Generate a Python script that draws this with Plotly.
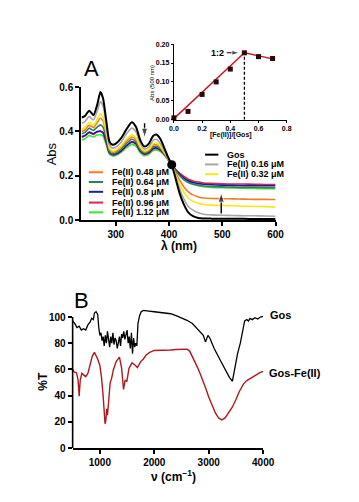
import plotly.graph_objects as go

# ---------------- Panel A : UV-vis spectra ----------------
wl = [236, 242, 250, 258, 265, 271, 276, 282, 288, 294, 300, 310, 320, 330, 338, 346, 354, 362, 370, 376,
      384, 392, 398, 405, 412, 420, 428, 436, 445, 455, 465, 480, 500, 520, 540, 560, 580, 600]
abs_gos = [.463, .470, .494, .474, .52, .578, .55, .45, .355, .34, .345, .37, .41, .442, .42, .36, .332, .345, .38, .386,
           .365, .32, .285, .25, .19, .12, .07, .035, .018, .01, .008, .007, .006, .006, .006, .005, .005, .005]
abs_016 = [.437, .445, .468, .452, .49, .535, .515, .43, .34, .325, .33, .352, .39, .415, .398, .345, .32, .33, .36, .365,
           .345, .31, .28, .25, .2, .14, .095, .062, .045, .033, .027, .024, .022, .021, .02, .02, .019, .018]
abs_032 = [.41, .418, .44, .428, .455, .48, .465, .4, .325, .312, .316, .335, .365, .385, .372, .33, .312, .32, .345, .348,
           .333, .302, .277, .25, .205, .16, .125, .1, .085, .076, .071, .068, .066, .065, .063, .062, .061, .059]
abs_048 = [.40, .407, .428, .418, .44, .46, .448, .39, .32, .307, .31, .328, .357, .375, .363, .325, .308, .315, .338, .341,
           .328, .3, .276, .25, .215, .18, .15, .128, .114, .105, .1, .098, .097, .096, .095, .094, .094, .093]
abs_064 = [.39, .396, .415, .405, .42, .43, .42, .37, .31, .3, .303, .32, .347, .365, .353, .318, .303, .31, .33, .333,
           .322, .298, .276, .25, .225, .2, .182, .17, .162, .157, .154, .152, .15, .149, .148, .148, .147, .146]
abs_080 = [.377, .382, .398, .39, .4, .402, .395, .355, .305, .296, .298, .313, .337, .354, .345, .312, .299, .305, .323, .326,
           .316, .295, .275, .25, .228, .207, .19, .178, .17, .165, .162, .16, .158, .157, .156, .156, .155, .155]
abs_096 = [.373, .38, .395, .387, .398, .4, .393, .352, .303, .295, .297, .312, .335, .352, .343, .31, .297, .303, .321, .324,
           .315, .294, .275, .25, .23, .212, .197, .185, .177, .172, .168, .166, .164, .163, .163, .162, .161, .161]
abs_112 = [.362, .367, .382, .375, .384, .385, .379, .34, .297, .29, .292, .306, .327, .342, .334, .303, .291, .297, .314, .317,
           .309, .291, .273, .25, .225, .204, .187, .175, .164, .156, .151, .148, .146, .145, .144, .143, .142, .142]

series_names = ["Gos", "Fe(II) 0.16 μM", "Fe(II) 0.32 μM", "Fe(II) 0.48 μM", "Fe(II) 0.64 μM",
                "Fe(II) 0.8 μM", "Fe(II) 0.96 μM", "Fe(II) 1.12 μM"]
series_vals = [abs_gos, abs_016, abs_032, abs_048, abs_064, abs_080, abs_096, abs_112]
series_cols = ["#000000", "#a6a6a6", "#f7e718", "#f07d1e", "#2f7d5a", "#1c1c9c", "#e0234e", "#3ee03e"]

iso_x = [405]
iso_y = [0.25]

# trend arrows in panel A (tail -> head)
arrow_down_x = [354, 354]
arrow_down_y = [0.437, 0.372]
arrow_up_x = [498, 498]
arrow_up_y = [0.03, 0.124]

# ---------------- Inset : Abs(500) vs ratio ----------------
ratio = [0.0, 0.1, 0.2, 0.3, 0.4, 0.5, 0.6, 0.7]
abs500 = [0.005, 0.022, 0.067, 0.100, 0.134, 0.177, 0.167, 0.162]
fit1_x = [0.0, 0.5]
fit1_y = [0.003, 0.177]
fit2_x = [0.5, 0.7]
fit2_y = [0.177, 0.161]
drop_x = [0.5, 0.5]
drop_y = [0.0, 0.177]
arrow_12_x = [0.375, 0.465]
arrow_12_y = [0.177, 0.177]

# ---------------- Panel B : IR spectra ----------------
nu_gos = [500, 540, 580, 620, 660, 700, 740, 780, 820, 850, 880, 900, 930, 960, 980, 1000, 1020, 1040, 1060, 1080,
          1100, 1120, 1140, 1160, 1180, 1200, 1220, 1240, 1260, 1280, 1300, 1320, 1340, 1360, 1380, 1400, 1420, 1440,
          1460, 1480, 1500, 1520, 1540, 1560, 1580, 1600, 1620, 1640, 1660, 1680, 1700, 1730, 1760, 1800, 1850, 1900,
          2000, 2100, 2200, 2300, 2400, 2500, 2600, 2700, 2800, 2860, 2900, 2940, 2960, 2985, 3020, 3100, 3200, 3300,
          3380, 3435, 3480, 3530, 3580, 3620, 3660, 3700, 3730, 3760, 3800, 3850, 3900, 3950, 4000]
t_gos = [97, 95, 92, 93, 90, 91, 90, 94, 96, 99, 98, 103, 104, 102, 92, 86, 88, 82, 85, 78,
         86, 80, 89, 83, 77, 85, 80, 88, 79, 84, 82, 76, 81, 85, 78, 87, 84, 89,
         83, 86, 90, 80, 85, 76, 88, 72, 84, 77, 80, 78, 95, 101, 104, 105, 105, 104.5,
         104, 103.5, 103, 102.5, 101, 99.5, 97.5, 95, 90.5, 88, 86, 81, 83, 86, 84, 76, 68, 60,
         54, 51, 62, 72, 80, 90, 97, 98, 97, 99, 98, 99.5, 98.5, 100, 100.5]
nu_fe = [500, 530, 570, 600, 620, 640, 670, 700, 740, 780, 820, 860, 900, 930, 960, 1000, 1030, 1060, 1080, 1095,
         1110, 1125, 1140, 1150, 1165, 1190, 1215, 1250, 1300, 1360, 1400, 1435, 1465, 1495, 1535, 1590, 1650, 1690,
         1750, 1800, 1850, 1915, 2000, 2100, 2200, 2300, 2400, 2500, 2600, 2650, 2700, 2750, 2800, 2850, 2900, 2950,
         3000, 3060, 3120, 3180, 3240, 3300, 3360, 3430, 3500, 3560, 3640, 3700, 3760, 3815, 3880, 3940, 4000]
t_fe = [60, 58, 57.5, 52, 39.5, 52, 57, 56, 54.5, 57, 63, 70, 73, 71, 68, 63, 54, 40, 25, 18.5,
        21, 30, 25, 30, 40, 50, 53, 60, 66, 69.4, 61, 44.7, 52, 50.7, 60.7, 65, 63.2, 61.4,
        66, 68, 71, 73, 74.5, 74.5, 75, 74.8, 75.2, 75.5, 75.5, 74, 70, 66, 61, 56, 51, 45,
        39, 33, 27, 23, 21.5, 23, 26.5, 31, 37, 43, 49, 51.5, 53, 54.5, 56, 57.5, 58.5]

FONT = "Liberation Sans"
W, H = 359, 502


def px(xp):
    return xp / W


def py(yp):
    return 1 - yp / H


fig = go.Figure()

# Panel A traces (drawn bottom-to-top so black ends on top)
for name, vals, col in list(zip(series_names, series_vals, series_cols))[::-1]:
    fig.add_trace(go.Scatter(x=wl, y=vals, mode="lines", name=name,
                             line=dict(color=col, width=2.0 if name == "Gos" else 1.6, shape="spline", smoothing=0.6),
                             xaxis="x", yaxis="y", showlegend=False))
fig.add_trace(go.Scatter(x=iso_x, y=iso_y, mode="markers", marker=dict(color="black", size=9),
                         xaxis="x", yaxis="y", showlegend=False, cliponaxis=False))
for ax_, ay_ in [(arrow_down_x, arrow_down_y), (arrow_up_x, arrow_up_y)]:
    fig.add_trace(go.Scatter(x=ax_, y=ay_, mode="lines+markers", line=dict(color="black", width=1.4),
                             marker=dict(symbol="arrow", size=[0, 10], angleref="previous", color="black"),
                             xaxis="x", yaxis="y", showlegend=False, cliponaxis=False))

# Inset traces
fig.add_trace(go.Scatter(x=fit1_x, y=fit1_y, mode="lines", line=dict(color="#c4182c", width=1.5),
                         xaxis="x2", yaxis="y2", showlegend=False))
fig.add_trace(go.Scatter(x=fit2_x, y=fit2_y, mode="lines", line=dict(color="#c4182c", width=1.5),
                         xaxis="x2", yaxis="y2", showlegend=False))
fig.add_trace(go.Scatter(x=drop_x, y=drop_y, mode="lines", line=dict(color="black", width=1.3, dash="3px,2px"),
                         xaxis="x2", yaxis="y2", showlegend=False))
fig.add_trace(go.Scatter(x=ratio, y=abs500, mode="markers",
                         marker=dict(symbol="square", color="#2a0808", size=5),
                         xaxis="x2", yaxis="y2", showlegend=False, cliponaxis=False))
fig.add_trace(go.Scatter(x=arrow_12_x, y=arrow_12_y, mode="lines+markers", line=dict(color="black", width=1.1),
                         marker=dict(symbol="arrow", size=[0, 8], angleref="previous", color="black"),
                         xaxis="x2", yaxis="y2", showlegend=False, cliponaxis=False))

# Panel B traces
fig.add_trace(go.Scatter(x=nu_fe, y=t_fe, mode="lines", line=dict(color="#b0181f", width=1.4),
                         xaxis="x3", yaxis="y3", showlegend=False))
fig.add_trace(go.Scatter(x=nu_gos, y=t_gos, mode="lines", line=dict(color="black", width=1.3),
                         xaxis="x3", yaxis="y3", showlegend=False))

tickfont10 = dict(family=FONT, size=10, color="black", weight="bold")
tickfont7 = dict(family=FONT, size=7, color="black", weight="bold")
axis_common = dict(showgrid=False, zeroline=False, showline=True, linecolor="black", ticks="outside",
                   tickcolor="black", mirror=False)

fig.update_layout(
    width=W, height=H, margin=dict(l=0, r=0, t=0, b=0),
    paper_bgcolor="white", plot_bgcolor="white",
    xaxis=dict(domain=[px(80), px(284)], range=[235, 600], tickvals=[300, 400, 500, 600],
               linewidth=2, ticklen=4, tickwidth=1.5, tickfont=tickfont10, anchor="y", **axis_common),
    yaxis=dict(domain=[py(220), py(84)], range=[0, 0.6], tickvals=[0, 0.2, 0.4, 0.6], tickformat=".1f",
               linewidth=2, ticklen=4, tickwidth=1.5, tickfont=tickfont10, anchor="x", **axis_common),
    xaxis2=dict(domain=[px(177.3), px(295.7)], range=[0, 0.8], tickvals=[0, 0.2, 0.4, 0.6, 0.8], tickformat=".1f",
                linewidth=1.2, ticklen=2, tickwidth=1, tickfont=tickfont7, anchor="y2", **axis_common),
    yaxis2=dict(domain=[py(117.3), py(40)], range=[0, 0.2], tickvals=[0, 0.05, 0.1, 0.15, 0.2], tickformat=".2f",
                linewidth=1.2, ticklen=2, tickwidth=1, tickfont=tickfont7, anchor="x2", **axis_common),
    xaxis3=dict(domain=[px(71), px(271)], range=[500, 4000], tickvals=[1000, 2000, 3000, 4000],
                linewidth=1.6, ticklen=4, tickwidth=1.5, tickfont=tickfont10, anchor="y3", **axis_common),
    yaxis3=dict(domain=[py(453), py(453 - 107 * 1.34)], range=[0, 107], tickvals=[0, 20, 40, 60, 80, 100],
                showgrid=False, zeroline=False, showline=False, ticks="outside", tickcolor="black",
                ticklen=4, tickwidth=1.5, tickfont=tickfont10, anchor="x3"),
)

shapes = []
# y-axis line of panel B (0..100 only)
shapes.append(dict(type="line", xref="x3 domain", yref="y3", x0=0, x1=0, y0=0, y1=100,
                   line=dict(color="black", width=1.6)))

annotations = []


def txt(x, y, s, size, bold=True, xanchor="center", angle=0, color="black"):
    annotations.append(dict(x=x, y=y, xref="paper", yref="paper", text=s, showarrow=False,
                            xanchor=xanchor, yanchor="middle", textangle=angle,
                            font=dict(family=FONT, size=size, color=color, weight="bold" if bold else "normal")))


# Panel labels and axis titles
txt(px(91), py(65), "A", 22, bold=False)
txt(px(80), py(302), "B", 22, bold=False)
txt(px(49), py(152), "Abs", 13, bold=False, angle=-90)
txt(px(183), py(246), "λ (nm)", 12)
txt(px(39), py(385), "%T", 12, angle=-90)
txt(px(177), py(482), "ν (cm<sup>−1</sup>)", 12)
txt(px(276), py(317), "Gos", 11, xanchor="left")
txt(px(275), py(376), "Gos-Fe(II)", 11, xanchor="left")

# Inset titles
txt(px(155), py(80), "Abs (500 nm)", 6, bold=False, angle=-90)
txt(px(237), py(133), "[Fe(II)]/[Gos]", 7)
txt(px(223), py(49), "1:2", 9)

# Custom legends for panel A
left_idx = [3, 4, 5, 6, 7]
left_y = [171, 181, 191, 202, 212]
right_idx = [0, 1, 2]
right_y = [153, 163, 173]
for i, yy in zip(left_idx, left_y):
    shapes.append(dict(type="line", xref="paper", yref="paper", x0=px(88), x1=px(103), y0=py(yy), y1=py(yy),
                       line=dict(color=series_cols[i], width=2)))
    txt(px(110), py(yy), series_names[i], 9, xanchor="left")
for i, yy in zip(right_idx, right_y):
    shapes.append(dict(type="line", xref="paper", yref="paper", x0=px(210), x1=px(224), y0=py(yy), y1=py(yy),
                       line=dict(color=series_cols[i], width=2)))
    txt(px(231), py(yy), series_names[i], 9, xanchor="left")

fig.update_layout(shapes=shapes, annotations=annotations)
fig.write_html("out.html", config={"displayModeBar": False},
               post_script="document.body.style.margin='0';document.body.style.padding='0';")
